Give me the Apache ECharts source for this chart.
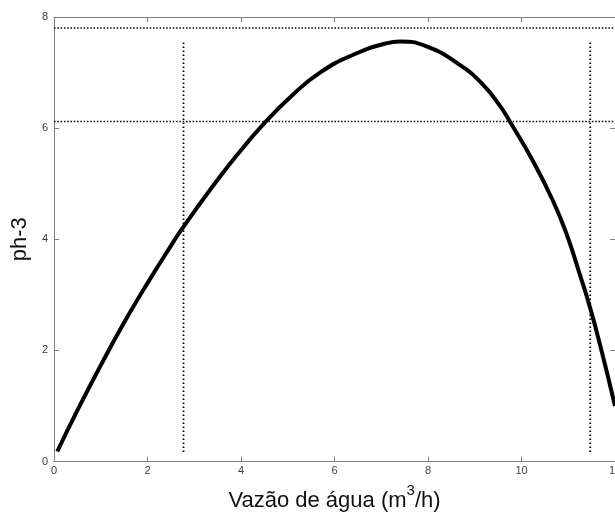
<!DOCTYPE html>
<html><head><meta charset="utf-8">
<script src="https://cdn.jsdelivr.net/npm/echarts@6/dist/echarts.min.js"></script>
<style>html,body{margin:0;padding:0;background:#fff}#c{width:615px;height:512px}</style>
</head><body><div id="c"></div>
<script>
// curve data
var curveX = [0.07, 0.5, 1.0, 1.5, 2.0, 2.5, 2.7, 3.34, 3.91, 4.51, 5.12, 5.69, 6.40, 7.12, 7.40, 7.97, 8.68, 9.18, 9.54, 9.75, 10.25, 10.68, 10.97, 11.25, 11.47, 11.68, 12.0];
var curveY = [0.18, 0.92, 1.73, 2.50, 3.21, 3.88, 4.14, 4.89, 5.51, 6.10, 6.61, 7.00, 7.32, 7.53, 7.56, 7.47, 7.14, 6.78, 6.40, 6.12, 5.40, 4.68, 4.08, 3.36, 2.76, 2.10, 1.00];
// reference lines
var hLineY = [7.8, 6.12];
var vLineX = [2.77, 11.47];
var vLineRange = [0.17, 7.55];
var xTicks = [0, 2, 4, 6, 8, 10, 12];
var yTicks = [0, 2, 4, 6, 8];

var chart = echarts.init(document.getElementById('c'));
var axisCol = '#7f7f7f';
var lblCol = '#404040';
var font = 'Liberation Sans, Arial, sans-serif';

function pairs(xs, ys){ return xs.map(function(x,i){return [x, ys[i]];}); }

var series = [{
  type: 'line', data: pairs(curveX, curveY), smooth: 0.5, symbol: 'none',
  lineStyle: {color: '#000', width: 4}, z: 5
}];
hLineY.forEach(function(v){
  series.push({type:'line', data:[[0,v],[12,v]], symbol:'none',
    lineStyle:{color:'#000', width:1.5, type:[1.5,1.8]}});
});
vLineX.forEach(function(v){
  series.push({type:'line', data:[[v,vLineRange[0]],[v,vLineRange[1]]], symbol:'none',
    lineStyle:{color:'#000', width:1.8, type:[1.5,2.5]}});
});

var common = {
  min: 0, interval: 2,
  axisLine: {show: true, onZero: false, lineStyle: {color: axisCol, width: 1}},
  axisTick: {show: true, inside: true, length: 5, lineStyle: {color: axisCol}},
  splitLine: {show: false}
};

chart.setOption({
  animation: false,
  grid: {left: 54, right: 0, top: 17, bottom: 50.5, outerBoundsMode: 'none', containLabel: false},
  xAxis: [
    Object.assign({}, common, {type:'value', max: 12, position:'bottom',
      axisLabel: {color: lblCol, fontSize: 11, fontFamily: font, margin: 4},
      name: '{t|Vazão de água (m}{s|3}{t|/h)}', nameLocation: 'middle', nameGap: 22,
      nameTextStyle: {rich: {
        t: {fontSize: 22, fontFamily: font, color: '#111', verticalAlign: 'bottom', lineHeight: 28},
        s: {fontSize: 15, fontFamily: font, color: '#111', verticalAlign: 'top', lineHeight: 28}
      }}}),
    Object.assign({}, common, {type:'value', max: 12, position:'top', axisLabel:{show:false}})
  ],
  yAxis: [
    Object.assign({}, common, {type:'value', max: 8, position:'left',
      axisLabel: {color: lblCol, fontSize: 11, fontFamily: font, margin: 6},
      name: 'ph-3', nameLocation: 'middle', nameGap: 20,
      nameTextStyle: {fontSize: 22, fontFamily: font, color: '#111'}}),
    Object.assign({}, common, {type:'value', max: 8, position:'right', axisLabel:{show:false},
      axisLine:{show:false, onZero:false}})
  ],
  series: series
});
</script></body></html>
